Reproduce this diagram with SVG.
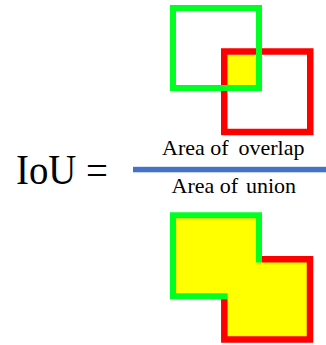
<svg xmlns="http://www.w3.org/2000/svg" width="326" height="345" viewBox="0 0 326 345">
<style>
.g{fill:none;stroke:#00FF22;stroke-width:6;stroke-linejoin:miter}
.r{fill:none;stroke:#FF0000;stroke-width:6.5;stroke-linejoin:miter}
.y{fill:#FFFF00;stroke:none}
.t{font-family:"Liberation Serif","Times New Roman",serif;fill:#000}
.s{font-size:22px}
</style>
<rect width="326" height="345" fill="#fff"/>
<g id="top">
<rect class="y" x="227.5" y="54.75" width="28.5" height="30.25"/>
<rect class="r" x="224.25" y="51.5" width="86" height="80.5"/>
<rect class="g" x="173" y="8" width="86" height="80"/>
</g>
<g id="label">
<text class="t" x="16" y="183.5" font-size="42" textLength="92" lengthAdjust="spacingAndGlyphs">IoU =</text>
<rect x="133" y="166.8" width="193" height="5.5" fill="#4472C4"/>
<text class="t s" y="155"><tspan x="162">Area of</tspan><tspan x="238.5">overlap</tspan></text>
<text class="t s" y="192.7"><tspan x="171.5">Area of</tspan><tspan x="246">union</tspan></text>
</g>
<g id="bottom">
<polygon class="y" points="172,214 260,214 260,258 311,258 311,341 223,341 223,298 172,298"/>
<polyline class="g" points="227.6,296.3 173,296.3 173,215.3 259,215.3 259,262.4"/>
<polyline class="r" points="262,259.2 310,259.2 310,339.5 224.3,339.5 224.3,299.3"/>
</g>
</svg>
